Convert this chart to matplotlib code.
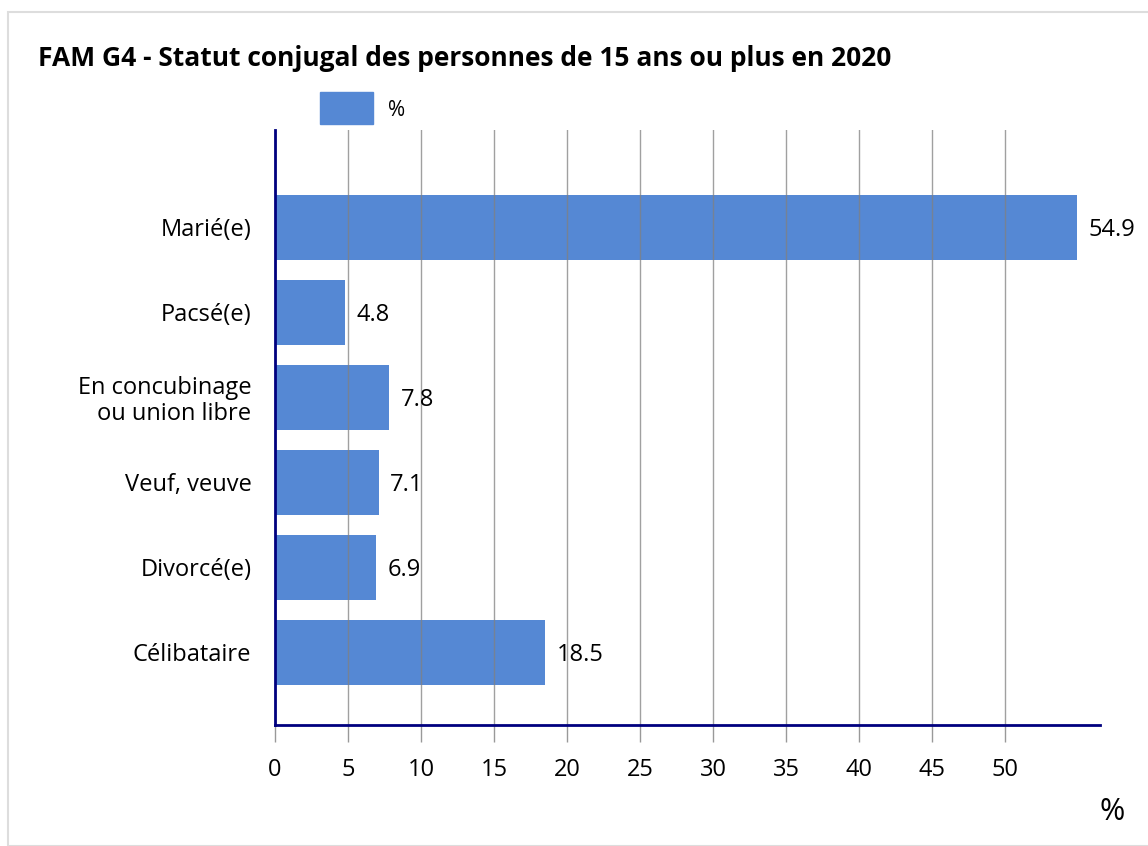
import matplotlib
matplotlib.use("Agg")
import matplotlib.pyplot as plt
from matplotlib.patches import Rectangle

plt.rcParams['font.family'] = ['Open Sans', 'DejaVu Sans']

# data
categories = ["Marié(e)", "Pacsé(e)", "En concubinage\nou union libre",
              "Veuf, veuve", "Divorcé(e)", "Célibataire"]
values = [54.9, 4.8, 7.8, 7.1, 6.9, 18.5]
xticks = [0, 5, 10, 15, 20, 25, 30, 35, 40, 45, 50]

bar_color = "#5588d4"
axis_color = "#00007f"

fig = plt.figure(figsize=(11.48, 8.46), dpi=100)
W, H = 1148, 846

# light outer frame
fig.patches.append(Rectangle((8 / W, 0), 1.2, (H - 12) / H, transform=fig.transFigure,
                             fill=False, edgecolor="#dddddd", linewidth=1.5))

ax = fig.add_axes([275 / W, 1 - 725 / H, (1100 - 275) / W, (725 - 130) / H])

y = list(range(len(categories)))
ax.barh(y, values, height=0.765, color=bar_color, zorder=2)
ax.set_ylim(len(categories) - 1 + 0.853, -1.147)
ax.set_xlim(0, 56.5)

ax.set_xticks(xticks)
ax.set_xticklabels([str(t) for t in xticks], fontsize=17)
ax.set_yticks(y)
ax.set_yticklabels(categories, fontsize=17, linespacing=1.1)
ax.tick_params(axis='y', length=0, pad=17)
ax.tick_params(axis='x', length=12, color="#999999", width=1, pad=12)

ax.grid(axis='x', color="#808080", linewidth=1, alpha=0.75, zorder=3)
ax.set_axisbelow(False)

for s in ['top', 'right']:
    ax.spines[s].set_visible(False)
for s in ['left', 'bottom']:
    ax.spines[s].set_color(axis_color)
    ax.spines[s].set_linewidth(2)
    ax.spines[s].set_zorder(4)

for yi, v in zip(y, values):
    ax.text(v + 0.8, yi + 0.03, f"{v}", va='center', ha='left', fontsize=17, zorder=5)

fig.text(38 / W, 1 - 58 / H, "FAM G4 - Statut conjugal des personnes de 15 ans ou plus en 2020",
         fontsize=19, fontweight='bold', va='center', ha='left')

# legend
fig.patches.append(Rectangle((320 / W, 1 - 124 / H), 53 / W, 32 / H, transform=fig.transFigure,
                             color=bar_color))
fig.text(388 / W, 1 - 111 / H, "%", fontsize=15, va='center', ha='left')

fig.text(1112 / W, 1 - 812 / H, "%", fontsize=22, va='center', ha='center')

fig.savefig("out.png", dpi=100)
